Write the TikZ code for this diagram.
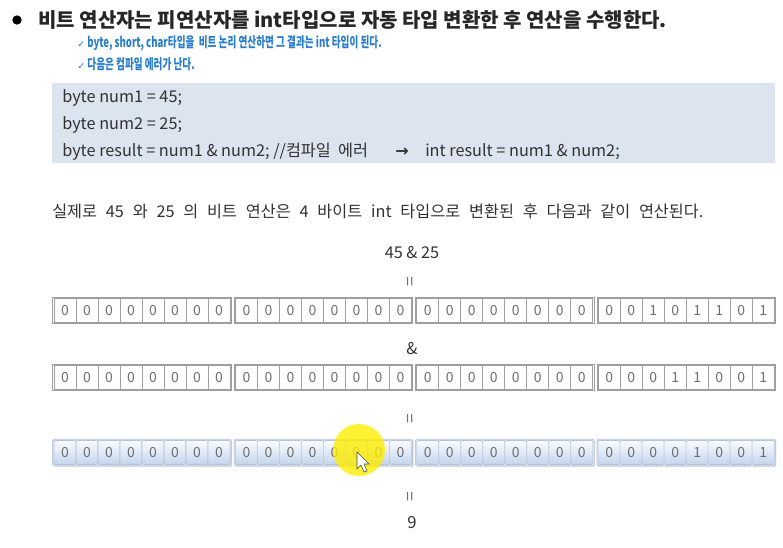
\documentclass[tikz,border=0pt]{standalone}
\usepackage{fontspec}
\setmainfont{Noto Sans CJK KR}
\newfontfamily\krnarrow[FakeStretch=0.68]{Noto Sans CJK KR}
\newfontfamily\symfont{DejaVu Sans}
\usetikzlibrary{positioning, calc, shadows}
\definecolor{codebg}{RGB}{220,228,240}
\definecolor{noteblue}{RGB}{40,125,205}
\definecolor{textgray}{RGB}{50,50,50}
\definecolor{bitgray}{RGB}{110,110,110}
\definecolor{celltop}{RGB}{250,252,255}
\definecolor{cellbot}{RGB}{195,213,236}
\definecolor{celledge}{RGB}{150,170,200}

\tikzset{
  txt/.style={inner sep=0pt, anchor=west, text=textgray, font=\fontsize{12.2pt}{14pt}\selectfont},
  note/.style={inner sep=0pt, anchor=west, text=noteblue, font=\krnarrow\bfseries\fontsize{10.6pt}{12pt}\selectfont},
  vequal/.style={inner sep=0pt, rotate=90, text=bitgray, font=\fontsize{13pt}{14pt}\selectfont},
  bytebox/.style={draw=gray!75, line width=0.5pt, minimum width=134pt, minimum height=20pt, inner sep=0pt},
  bitcell/.style={draw=gray!75, line width=0.5pt, minimum width=16.5pt, minimum height=18pt, inner sep=0pt,
    text=bitgray, font=\fontsize{10.5pt}{11pt}\selectfont},
  bytebar/.style={draw=celledge!80, line width=0.4pt, rounded corners=1pt, minimum width=134pt, minimum height=20pt,
    inner sep=0pt, fill=cellbot!60, drop shadow={shadow xshift=0.6pt, shadow yshift=-0.8pt, opacity=0.25}},
  barcell/.style={draw=celledge!70, line width=0.4pt, rounded corners=1pt, minimum width=16.5pt, minimum height=18pt,
    inner sep=0pt, top color=celltop, bottom color=cellbot, text=bitgray, font=\fontsize{10.5pt}{11pt}\selectfont},
}

\begin{document}
\begin{tikzpicture}[x=0.75pt, y=-0.75pt]
  \useasboundingbox (0,0) rectangle (783,548);

  % heading and notes
  \node[circle, fill=black, inner sep=0pt, minimum size=7pt] (bullet) at (17,20) {};
  \node[inner sep=0pt, anchor=west, text=black!85, font=\bfseries\fontsize{15pt}{17pt}\selectfont] (head) at (38,20)
    {비트 연산자는 피연산자를 int타입으로 자동 타입 변환한 후 연산을 수행한다.};
  \node[note] (note1) at (77,43) {{\symfont\fontsize{7pt}{8pt}\selectfont ✓} byte, short, char타입을\ \ 비트 논리 연산하면 그 결과는 int 타입이 된다.};
  \node[note] (note2) at (77,64) {{\symfont\fontsize{7pt}{8pt}\selectfont ✓}\,다음은 컴파일 에러가 난다.};

  % code box
  \fill[codebg] (52,83) rectangle (775,163);
  \node[txt] (code1) at (62,98) {byte num1 = 45;};
  \node[txt] (code2) at (62,125) {byte num2 = 25;};
  \node[txt] (code3) at (62,152) {byte result = num1 \& num2; //컴파일\ \ 에러};
  \node[inner sep=0pt, text=black!80, font=\symfont\bfseries\fontsize{12pt}{13pt}\selectfont] (arrow) at (402,152) {→};
  \node[txt] (code4) at (425,152) {int result = num1 \& num2;};

  \node[txt] (desc) at (52,211)
    {\spaceskip=6.6pt\relax 실제로 45 와 25 의 비트 연산은 4 바이트 int 타입으로 변환된 후 다음과 같이 연산된다.};

  % the operation
  \node[txt, anchor=center] (expr) at (412,253) {45 \& 25};
  \node[vequal] (eq1) at (412,282) {=};
  \node[txt, anchor=center] (amp) at (412,349) {\&};
  \node[vequal] (eq2) at (412,419) {=};
  \node[vequal] (eq3) at (412,497) {=};
  \node[txt, anchor=center, font=\fontsize{12.5pt}{14pt}\selectfont] (res) at (412,523) {9};

  % bits
  \foreach \r/\yy/\bsty/\csty/\bits in {1/310.5/bytebox/bitcell/{0,0,1,0,1,1,0,1},
                                        2/377.5/bytebox/bitcell/{0,0,0,1,1,0,0,1},
                                        3/452.5/bytebar/barcell/{0,0,0,0,1,0,0,1}} {
    \foreach \g in {0,...,3} {
      \node[\bsty] (b\r-\g) at (53+181.4*\g+89, \yy) {};
      \foreach \b [count=\c from 0] in \bits {
        \node[\csty] (c\r-\g-\c) at (53+181.4*\g+12+22*\c, \yy) {\ifnum\g=3 \b\else 0\fi};
      }
    }
  }

  % cursor highlight
  \fill[yellow!95!orange, opacity=0.8] (359,450) circle (26);
  \draw[black!70, fill=white, line width=0.4pt] (357,452) -- ++(0,17) -- ++(4,-4) -- ++(3,7) -- ++(3,-1)
    -- ++(-3,-7) -- ++(5,0) -- cycle;
\end{tikzpicture}
\end{document}
